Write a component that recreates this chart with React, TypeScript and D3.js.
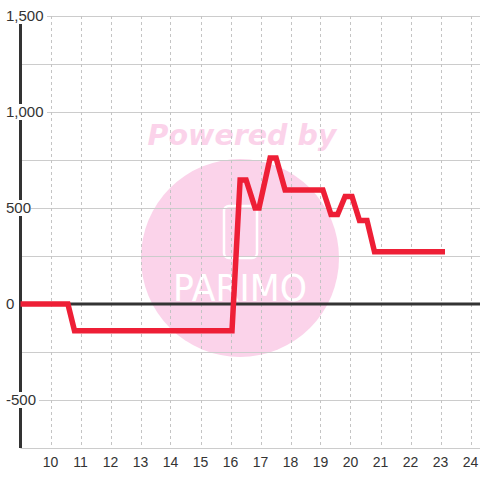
import React from "react";
import * as d3 from "d3";

const hours = [9.0, 10.58, 10.8, 16.05, 16.32, 16.52, 16.82, 16.95, 17.32, 17.52, 17.82, 19.08, 19.35, 19.57, 19.82, 20.05, 20.3, 20.55, 20.8, 23.15];
const values = [0, 0, -139, -139, 646, 646, 500, 500, 760, 760, 594, 594, 466, 466, 560, 560, 435, 435, 272, 272];
const xTicks = [10, 11, 12, 13, 14, 15, 16, 17, 18, 19, 20, 21, 22, 23, 24];
const yLabelTicks = [1500, 1000, 500, 0, -500];
const yGridTicks = [1500, 1250, 1000, 750, 500, 250, 0, -250, -500, -750];

const W = 480;
const H = 480;
const left = 20.5;
const right = 480;
const top = 16;
const bottom = 448;

export default function App() {
  const x = d3.scaleLinear().domain([9, 24]).range([left, left + 15 * 30]);
  const y = d3.scaleLinear().domain([-750, 1500]).range([bottom, top]);
  const pts: [number, number][] = hours.map((h, i) => [h, values[i]]);
  const line = d3
    .line<[number, number]>()
    .x((d) => x(d[0]))
    .y((d) => y(d[1]));
  const fmt = (v: number) => d3.format(",")(v).replace("\u2212", "-");
  const pink = "#fbd3ea";
  return (
    <svg
      width={W}
      height={H}
      style={{ position: "absolute", left: 0, top: 0, background: "#fff" }}
    >
      {/* watermark */}
      <circle cx={240} cy={258} r={99} fill={pink} />
      <text
        x={242}
        y={145}
        textAnchor="middle"
        fontFamily="DejaVu Sans"
        fontWeight="bold"
        fontStyle="italic"
        fontSize={28.5}
        fill={pink}
      >
        Powered by
      </text>
      <rect x={224} y={206} width={33} height={52} rx={5} fill="none" stroke="#fff" strokeWidth={2.5} />
      <text
        x={173}
        y={301}
        textLength={134}
        lengthAdjust="spacingAndGlyphs"
        fontFamily="DejaVu Sans"
        fontSize={37}
        fill="#fff"
      >
        PARIMO
      </text>
      {/* horizontal grid */}
      {yGridTicks.map((t) => (
        <line key={"h" + t} x1={left} x2={right} y1={y(t) + 0.5} y2={y(t) + 0.5} stroke="#cccccc" strokeWidth={1} />
      ))}
      {/* vertical grid */}
      {xTicks.map((t) => (
        <line
          key={"v" + t}
          x1={Math.round(x(t)) + 0.5}
          x2={Math.round(x(t)) + 0.5}
          y1={top}
          y2={bottom}
          stroke="#c4c4c4"
          strokeWidth={1}
          strokeDasharray="3,3"
        />
      ))}
      {/* zero line */}
      <line x1={left} x2={right} y1={y(0)} y2={y(0)} stroke="#333" strokeWidth={3} />
      {/* y axis */}
      <line x1={left} x2={left} y1={top + 8} y2={bottom} stroke="#333" strokeWidth={3} />
      {/* data line */}
      <path
        d={line(pts) || ""}
        fill="none"
        stroke="#ee1f36"
        strokeWidth={5.5}
        strokeLinejoin="miter"
        strokeLinecap="butt"
      />
      {/* y labels */}
      {yLabelTicks.map((t) => {
        const s = fmt(t);
        const w = s.length * 8;
        return (
          <g key={"yl" + t}>
            <rect x={5} y={y(t) - 8} width={w + 2} height={16} fill="#fff" />
            <text
              x={6}
              y={y(t) + 5}
              fontFamily="Liberation Sans, Arial, sans-serif"
              fontSize={15}
              fill="#333"
            >
              {s}
            </text>
          </g>
        );
      })}
      {/* x labels */}
      {xTicks.map((t) => (
        <text
          key={"xl" + t}
          x={x(t)}
          y={467}
          textAnchor="middle"
          fontFamily="Liberation Sans, Arial, sans-serif"
          fontSize={14}
          fill="#333"
        >
          {t}
        </text>
      ))}
    </svg>
  );
}
